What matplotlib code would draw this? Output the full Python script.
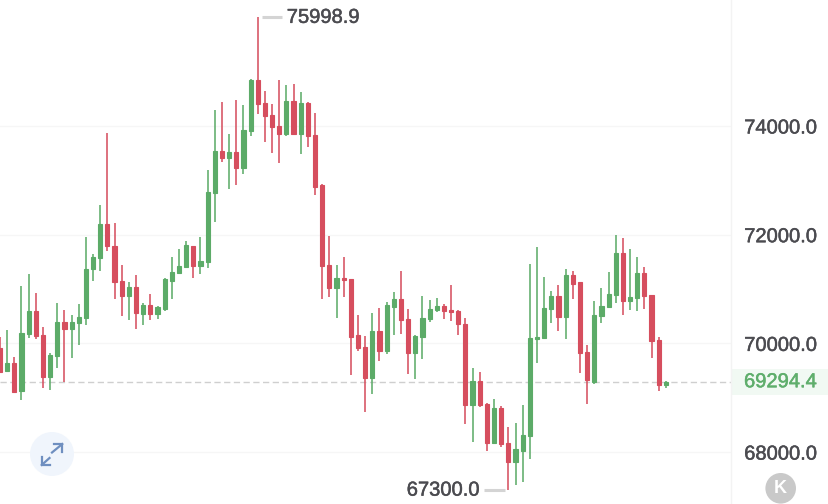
import matplotlib
matplotlib.use("Agg")
import matplotlib.pyplot as plt
import matplotlib.patheffects as pe
from matplotlib.patches import Circle, Rectangle
from matplotlib.lines import Line2D
from matplotlib.transforms import Affine2D, blended_transform_factory

opens = [69915,69492,69639,69124,70172,70596,70154,69381,69768,70393,70264,70375,70467,71368,71571,72196,71792,71148,70872,71037,
         70540,70706,70540,70632,71148,71295,71405,71792,71424,71497,72767,73540,73411,73521,73227,73908,74846,74423,74202,74000,
         73852,74460,73852,74423,73834,72914,71442,71019,71203,71184,70154,69933,69363,70228,69860,70669,70816,70448,69823,70117,
         70448,70614,70688,70614,70596,70356,68866,69308,68884,68167,68811,68167,67817,68020,68296,70080,70099,70632,70872,70485,
         71258,71129,69841,69289,70504,70669,70890,71663,70780,70835,71295,70890,70062,69234]
highs = [70117,70246,69749,71056,71276,70927,70301,69823,70743,70614,70522,70724,71957,71644,72546,73871,72215,71442,71129,71258,
         70743,70908,70688,71203,71589,71736,71884,71792,71957,73190,74294,74441,73852,74478,74386,74864,75998.9,74644,74404,74846,
         74754,74772,74625,74441,74239,72932,71976,71442,71589,71184,70522,70136,70559,70651,70761,70945,71332,70632,70154,70872,
         70798,70835,70724,71074,70614,70467,69547,69473,68903,68976,68848,68461,68535,68866,71460,71773,71221,70964,71074,71368,
         71332,71129,69970,70780,71019,71313,71994,71939,71736,71589,71405,70890,70117,69308]
lows = [69455,69473,69087,68958,70099,70080,69179,69142,69547,69289,69731,69970,70338,71148,71332,71700,70816,70504,70430,70264,
        70338,70430,70448,70596,70816,71276,71387,71203,71276,71387,72233,73337,72840,72914,73116,73816,74220,73705,73503,73319,
        73816,73834,73484,73613,72730,70816,70853,70467,70853,69418,69860,68737,69068,69676,69804,70154,70172,69436,69344,69712,
        70393,70577,70448,70412,70154,68516,68185,68829,68020,68167,68093,67300,67394,67449,67872,69639,70099,70375,70228,70080,
        70816,69455,68884,69252,70375,70669,70743,70522,70614,70596,70632,69731,69124,69179]
closes = [69473,69639,69105,70191,70596,70136,69381,69786,70393,70264,70393,70485,71368,71589,72196,71792,71129,70872,71037,70559,
          70706,70540,70669,71184,71313,71424,71810,71424,71516,72785,73540,73411,73521,73227,73926,74846,74404,74184,73981,73852,
          74460,73852,74423,73816,72877,71424,71019,71203,71166,70117,69915,69363,70228,69860,70706,70816,70430,69823,70136,70467,
          70632,70688,70596,70577,70356,68866,69308,68866,68167,68811,68148,67817,68056,68314,70099,70117,70651,70872,70485,71258,
          71092,69823,69326,70522,70688,70908,71663,70780,70853,71295,70872,70044,69234,69294.4]

y_ticks = [68000, 70000, 72000, 74000]
last_price = 69294.4
max_price = 75998.9
min_price = 67300.0

GREEN = "#5cab68"
RED = "#d64e5e"
TEXT = "#4b4b50"
W, H = 829, 504
heavier = [pe.withStroke(linewidth=0.35)]
fig = plt.figure(figsize=(W / 100, H / 100), dpi=100, facecolor="white")
plt.rcParams["font.family"] = ["Liberation Sans", "DejaVu Sans"]
px = Affine2D().scale(1, -1).translate(0, H)
fig.add_artist(Rectangle((732, 369), 97, 26, transform=px, fc="#f1f9f3", ec="none", zorder=-1))

ax = fig.add_axes([0, 0, 731 / W, 1])
ax.patch.set_visible(False)
ax.set_xlim(0, 731 / 7.16)
ax.set_ylim(67044.8, 76318.4)
for s in ax.spines.values():
    s.set_visible(False)
ax.set_xticks([])
ax.set_yticks(y_ticks, [f"{v:.1f}" for v in y_ticks])
ax.yaxis.tick_right()
ax.tick_params(axis="y", length=0, pad=9.5, labelsize=14.5, labelcolor=TEXT)
for t in ax.get_yticklabels():
    t.set_path_effects([pe.withStroke(linewidth=0.35, foreground=TEXT)])
ax.grid(axis="y", color="#f6f6f6", lw=1)
ax.set_axisbelow(True)

ax.axhline(last_price, color="#cfcfcf", lw=1, ls=(0, (4.5, 2.5)), zorder=1)

for i, (o, h, l, c) in enumerate(zip(opens, highs, lows, closes)):
    col = GREEN if c >= o else RED
    ax.vlines(i, l, h, color=col, lw=1.25, alpha=0.9, zorder=2)
    ax.bar(i, abs(c - o), bottom=min(o, c), width=0.58, color=col, ec=col, lw=0.8, zorder=3)

trans = blended_transform_factory(ax.transAxes, ax.transData)
ax.text(1 + 13 / 731, last_price, f"{last_price:.1f}", transform=trans, clip_on=False,
        ha="left", va="center", fontsize=14.5, color="#5fae6c",
        path_effects=[pe.withStroke(linewidth=0.35, foreground="#5fae6c")])

imax = highs.index(max_price)
imin = lows.index(min_price)
ax.annotate(f"{max_price:.1f}", xy=(imax, max_price), xytext=(29, 0), textcoords="offset pixels",
            va="center", ha="left", fontsize=14.5, color=TEXT,
            path_effects=[pe.withStroke(linewidth=0.35, foreground=TEXT)])
ax.annotate(f"{min_price:.1f}", xy=(imin, min_price), xytext=(-29, 0), textcoords="offset pixels",
            va="center", ha="right", fontsize=14.5, color=TEXT,
            path_effects=[pe.withStroke(linewidth=0.35, foreground=TEXT)])
ax.plot([imax + 0.6, imax + 3.4], [max_price, max_price], color="#d4d4d4", lw=2.2, solid_capstyle="butt")
ax.plot([imin - 3.4, imin - 0.5], [min_price, min_price], color="#d4d4d4", lw=2.2, solid_capstyle="butt")

# overlay in picture pixels
fig.add_artist(Line2D([731, 731], [0, 504], transform=px, color="#f3f3f3", lw=1))
fig.add_artist(Circle((52, 454), 22, transform=px, fc="#f0f5fc", ec="none"))
for xs, ys in [([52, 62.3], [452.5, 444]), ([54, 62.3, 62.3], [444, 444, 452.3]),
               ([41.7, 49.5], [465, 458]), ([41.7, 41.7, 50], [456.7, 465, 465])]:
    fig.add_artist(Line2D(xs, ys, transform=px, color="#6f8fc0", lw=1.6))
fig.add_artist(Circle((780.7, 488.3), 15.3, transform=px, fc="#c9c9c9", ec="none"))
fig.text(780.7 / W, 1 - 488.5 / H, "K", ha="center", va="center", color="white", fontsize=13, fontweight="bold")

fig.savefig("out.png", dpi=100, facecolor="white")
